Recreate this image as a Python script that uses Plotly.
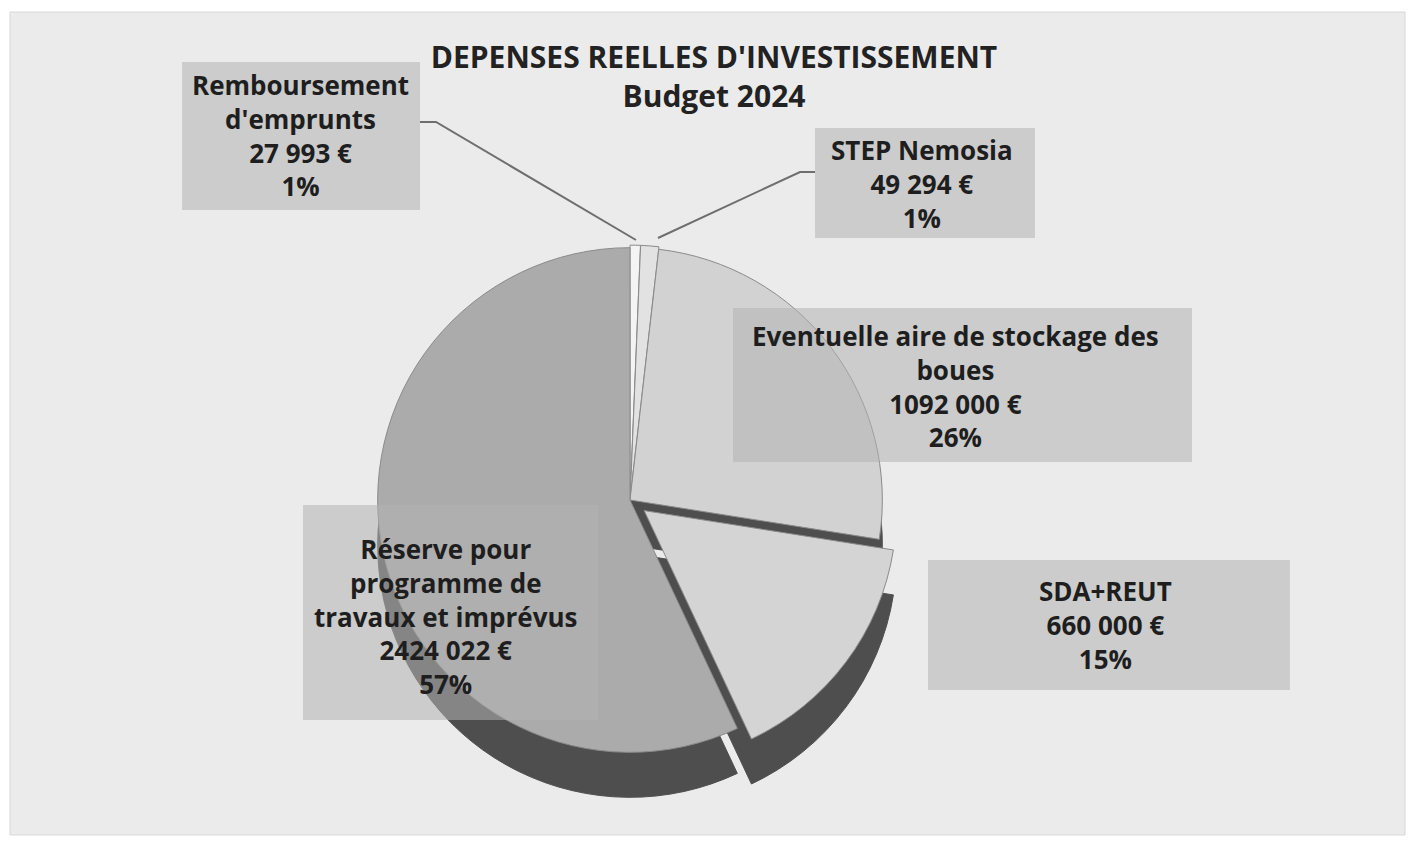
import plotly.graph_objects as go

W, H = 1412, 847

categories = ["Remboursement d'emprunts", "STEP Nemosia",
              "Eventuelle aire de stockage des boues", "SDA+REUT",
              "Réserve pour programme de travaux et imprévus"]
values = [27993, 49294, 1092000, 660000, 2424022]
amount_labels = ["27 993 €", "49 294 €", "1092 000 €", "660 000 €", "2424 022 €"]
percent_labels = ["1%", "1%", "26%", "15%", "57%"]
label_lines = [["Remboursement", "d'emprunts"], ["STEP Nemosia"],
               ["Eventuelle aire de stockage des", "boues"], ["SDA+REUT"],
               ["Réserve pour", "programme de", "travaux et imprévus"]]

top_colors = ["#f4f4f4", "#e2e2e2", "#d2d2d2", "#d4d4d4", "#ababab"]
side_color = "#4e4e4e"
pulls = [0.01, 0.01, 0.0, 0.07, 0.0]

def px(x):
    return x / W

def py(y):
    return 1 - y / H

FONT = "Open Sans"

fig = go.Figure()

# 3D depth (side of the pie), drawn behind the top face
fig.add_trace(go.Pie(
    labels=categories, values=values, sort=False, direction="clockwise",
    rotation=0, pull=pulls, textinfo="none", hoverinfo="skip",
    marker=dict(colors=[side_color] * 5, line=dict(color=side_color, width=1)),
    domain=dict(x=[px(360), px(900)], y=[py(815), py(275)]),
    showlegend=False,
))
# top face
fig.add_trace(go.Pie(
    labels=categories, values=values, sort=False, direction="clockwise",
    rotation=0, pull=pulls, textinfo="none",
    marker=dict(colors=top_colors, line=dict(color="#8a8a8a", width=1)),
    domain=dict(x=[px(360), px(900)], y=[py(770), py(230)]),
    showlegend=False,
))

# label boxes (x0, y0, x1, y1) in pixels and text centre
boxes = [
    (182, 62, 420, 210, 300, 136),
    (815, 128, 1035, 238, 922, 184),
    (733, 308, 1192, 462, 955, 386),
    (928, 560, 1290, 690, 1105, 625),
    (303, 505, 598, 720, 445, 616),
]

shapes = [
    dict(type="rect", xref="paper", yref="paper", x0=px(10), x1=px(1405),
         y0=py(835), y1=py(12), fillcolor="#ebebeb",
         line=dict(color="#d8d8d8", width=1), layer="below"),
]
annotations = []
for i, (x0, y0, x1, y1, cx, cy) in enumerate(boxes):
    shapes.append(dict(type="rect", xref="paper", yref="paper",
                       x0=px(x0), x1=px(x1), y0=py(y1), y1=py(y0),
                       fillcolor="rgba(178,178,178,0.55)", line=dict(width=0)))
    text = "<br>".join(label_lines[i] + [amount_labels[i], percent_labels[i]])
    annotations.append(dict(
        x=px(cx), y=py(cy), xref="paper", yref="paper", showarrow=False,
        xanchor="center", yanchor="middle",
        text="<b>" + text + "</b>", align="center",
        font=dict(family=FONT, size=26, color="#1e1e1e"),
    ))

# leader lines
shapes.append(dict(type="path", xref="paper", yref="paper",
                   path=f"M {px(420)} {py(122)} L {px(436)} {py(122)} L {px(636)} {py(240)}",
                   line=dict(color="#6e6e6e", width=2)))
shapes.append(dict(type="path", xref="paper", yref="paper",
                   path=f"M {px(815)} {py(172)} L {px(800)} {py(172)} L {px(658)} {py(238)}",
                   line=dict(color="#6e6e6e", width=2)))

fig.update_layout(
    width=W, height=H,
    margin=dict(l=0, r=0, t=0, b=0),
    paper_bgcolor="#ffffff",
    plot_bgcolor="#ffffff",
    title=dict(
        text="<b>DEPENSES REELLES D'INVESTISSEMENT<br>Budget 2024</b>",
        x=px(714), y=py(68), xanchor="center", yanchor="middle",
        font=dict(family=FONT, size=30, color="#222222"),
    ),
    shapes=shapes,
    annotations=annotations,
)

fig.write_html("out.html", config={"displayModeBar": False},
               post_script="document.body.style.margin='0';")
